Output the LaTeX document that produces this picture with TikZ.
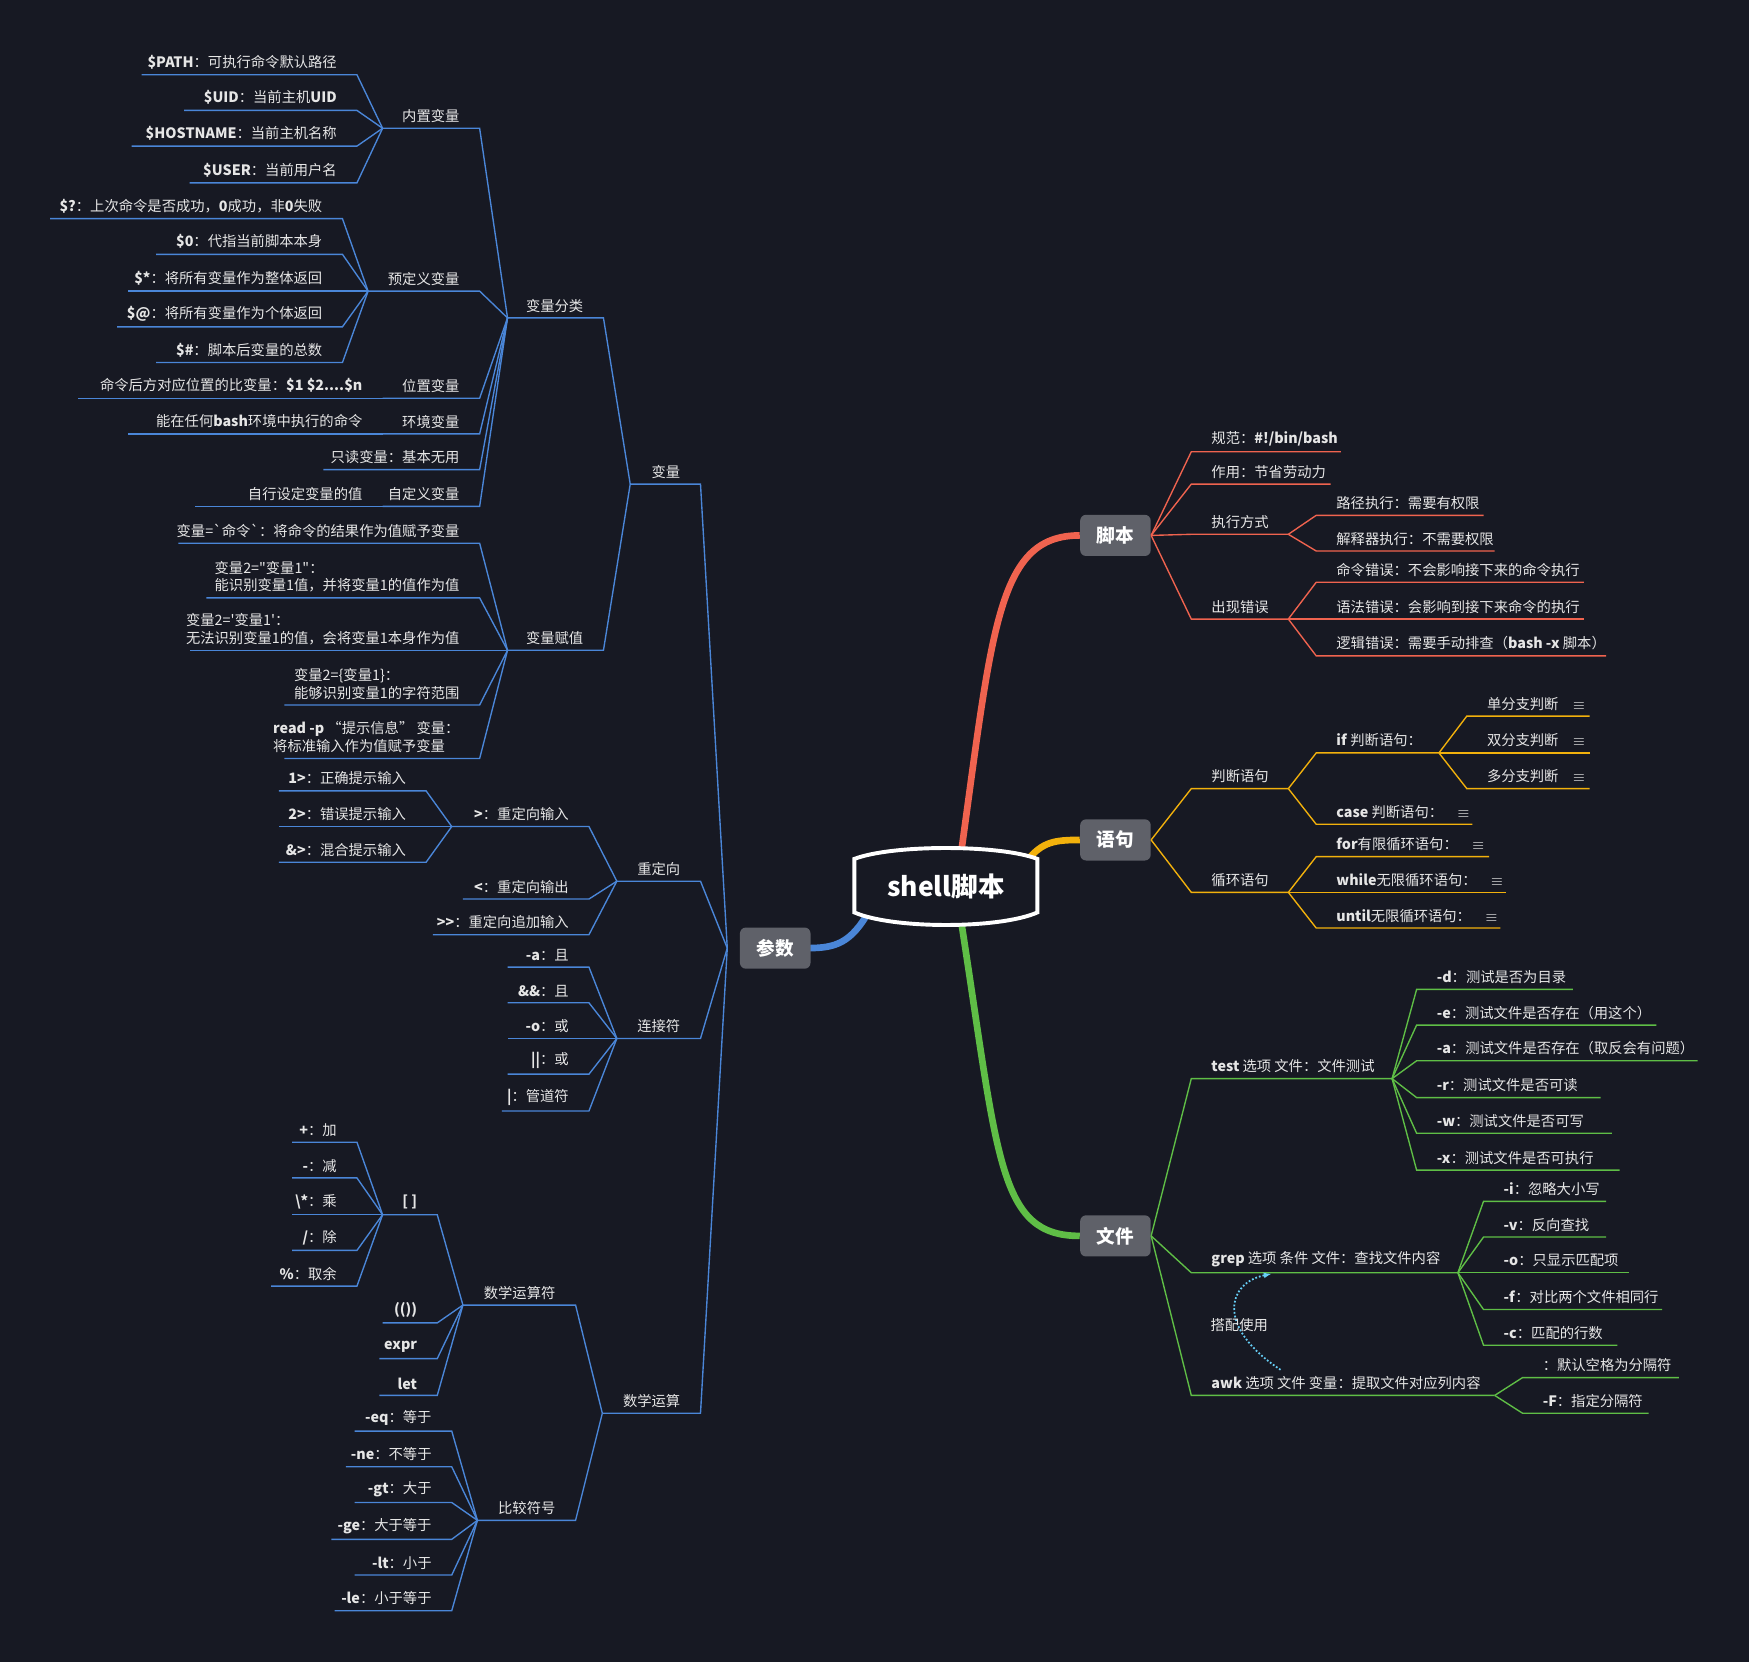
\documentclass[tikz,border=0pt]{standalone}
\usepackage{fontspec}
\setmainfont{Noto Sans CJK SC}[Ligatures=TeXOff]
\usetikzlibrary{arrows.meta}
\definecolor{bgcol}{HTML}{171923}
\definecolor{cred}{HTML}{F0634F}
\definecolor{cyel}{HTML}{F2B10C}
\definecolor{cgrn}{HTML}{5FBE46}
\definecolor{cblu}{HTML}{4A86D8}
\definecolor{boxcol}{HTML}{5F6169}
\definecolor{txtcol}{HTML}{E6E6E6}
\tikzset{
  lbl/.style={text=txtcol, font=\fontsize{7.3}{9}\selectfont, inner sep=1pt, align=left},
  main/.style={fill=boxcol, text=white, rounded corners=3pt, minimum width=36pt, minimum height=21pt,
    inner sep=1pt, font=\bfseries\fontsize{9.5}{11}\selectfont},
  lred/.style={draw=cred, line width=0.7pt},
  lyel/.style={draw=cyel, line width=0.7pt},
  lgrn/.style={draw=cgrn, line width=0.7pt},
  lblu/.style={draw=cblu, line width=0.7pt},
  thick/.style={line width=3.4pt}
}
% left branch: parent, inner x, outer x, y, text, style
\newcommand\brL[6]{
  \draw[#6] (#1) -- (#2,#4) -- (#3,#4);
  \node[lbl, anchor=south east] at (#2-16,#4-3) {#5};
}
% right branch
\newcommand\brR[6]{
  \draw[#6] (#1) -- (#2,#4) -- (#3,#4);
  \node[lbl, anchor=south west] at (#2+16,#4-3) {#5};
}
\newcommand\ic{\quad$\equiv$}
\begin{document}
\begin{tikzpicture}[x=0.02cm, y=-0.02cm]
\fill[bgcol] (0,0) rectangle (1568,1490);
\useasboundingbox (0,0) rectangle (1568,1490);

% main curves
\draw[cred, thick] (862,762) .. controls (890,560) and (895,480) .. (968,480);
\draw[cyel, thick] (922,770) .. controls (935,755) and (945,753) .. (968,753);
\draw[cgrn, thick] (862,828) .. controls (895,1040) and (895,1108) .. (968,1108);
\draw[cblu, thick] (776,822) .. controls (760,848) and (745,850) .. (722,850);

% centre
\draw[white, line width=2pt, fill=bgcol] (766,770) .. controls (800,757) and (896,757) .. (930,770)
  -- (930,818) .. controls (896,833) and (800,833) .. (766,818) -- cycle;
\node[text=white, font=\bfseries\fontsize{13.5}{15}\selectfont] (root) at (848,795) {shell脚本};

\node[main] (jb) at (1000,480) {脚本};
\node[main] (yj) at (1000,753) {语句};
\node[main] (wj) at (1000,1108) {文件};
\node[main] (cs) at (695,850) {参数};

% 脚本
\brR{1032,480}{1068}{1202}{405}{规范：\textbf{\#!/bin/bash}}{lred}
\brR{1032,480}{1068}{1193}{434}{作用：节省劳动力}{lred}
\brR{1032,480}{1068}{1155}{479}{执行方式}{lred}
\brR{1032,480}{1068}{1155}{555}{出现错误}{lred}
\brR{1155,479}{1180}{1330}{462}{路径执行：需要有权限}{lred}
\brR{1155,479}{1180}{1340}{494}{解释器执行：不需要权限}{lred}
\brR{1155,555}{1180}{1420}{522}{命令错误：不会影响接下来的命令执行}{lred}
\brR{1155,555}{1180}{1420}{555}{语法错误：会影响到接下来命令的执行}{lred}
\brR{1155,555}{1180}{1440}{588}{逻辑错误：需要手动排查（\textbf{bash -x} 脚本）}{lred}

% 语句
\brR{1032,753}{1068}{1155}{707}{判断语句}{lyel}
\brR{1032,753}{1068}{1155}{800}{循环语句}{lyel}
\brR{1155,707}{1180}{1290}{675}{\textbf{if} 判断语句：}{lyel}
\brR{1155,707}{1180}{1320}{739}{\textbf{case} 判断语句：\ic}{lyel}
\brR{1290,675}{1315}{1425}{642}{单分支判断\ic}{lyel}
\brR{1290,675}{1315}{1425}{675}{双分支判断\ic}{lyel}
\brR{1290,675}{1315}{1425}{707}{多分支判断\ic}{lyel}
\brR{1155,800}{1180}{1335}{768}{\textbf{for}有限循环语句：\ic}{lyel}
\brR{1155,800}{1180}{1350}{800}{\textbf{while}无限循环语句：\ic}{lyel}
\brR{1155,800}{1180}{1345}{832}{\textbf{until}无限循环语句：\ic}{lyel}

% 文件
\brR{1032,1108}{1068}{1248}{967}{\textbf{test} 选项 文件：文件测试}{lgrn}
\brR{1032,1108}{1068}{1307}{1141}{\textbf{grep} 选项 条件 文件：查找文件内容}{lgrn}
\brR{1032,1108}{1068}{1340}{1251}{\textbf{awk} 选项 文件 变量：提取文件对应列内容}{lgrn}
\brR{1248,967}{1270}{1410}{887}{\textbf{-d}：测试是否为目录}{lgrn}
\brR{1248,967}{1270}{1485}{919}{\textbf{-e}：测试文件是否存在（用这个）}{lgrn}
\brR{1248,967}{1270}{1522}{951}{\textbf{-a}：测试文件是否存在（取反会有问题）}{lgrn}
\brR{1248,967}{1270}{1435}{984}{\textbf{-r}：测试文件是否可读}{lgrn}
\brR{1248,967}{1270}{1445}{1016}{\textbf{-w}：测试文件是否可写}{lgrn}
\brR{1248,967}{1270}{1452}{1049}{\textbf{-x}：测试文件是否可执行}{lgrn}
\brR{1307,1141}{1330}{1440}{1077}{\textbf{-i}：忽略大小写}{lgrn}
\brR{1307,1141}{1330}{1440}{1109}{\textbf{-v}：反向查找}{lgrn}
\brR{1307,1141}{1330}{1460}{1141}{\textbf{-o}：只显示匹配项}{lgrn}
\brR{1307,1141}{1330}{1490}{1174}{\textbf{-f}：对比两个文件相同行}{lgrn}
\brR{1307,1141}{1330}{1450}{1206}{\textbf{-c}：匹配的行数}{lgrn}
\brR{1340,1251}{1365}{1505}{1235}{：默认空格为分隔符}{lgrn}
\brR{1340,1251}{1365}{1478}{1267}{\textbf{-F}：指定分隔符}{lgrn}
\coordinate (awkc) at (1148,1228);
\coordinate (grepc) at (1140,1142);
\draw[cyan!60!white, densely dotted, line width=0.9pt, -{Latex[length=4pt]}]
  (awkc) .. controls (1090,1190) and (1100,1150) .. (grepc);
\node[lbl] (dp) at (1111,1188) {搭配使用};

% 参数
\brL{652,850}{628}{565}{434}{变量}{lblu}
\brL{652,850}{628}{553}{790}{重定向}{lblu}
\brL{652,850}{628}{553}{931}{连接符}{lblu}
\brL{652,850}{628}{540}{1267}{数学运算}{lblu}

\brL{565,434}{541}{455}{285}{变量分类}{lblu}
\brL{565,434}{541}{455}{583}{变量赋值}{lblu}

\brL{455,285}{430}{343}{115}{内置变量}{lblu}
\brL{455,285}{430}{330}{261}{预定义变量}{lblu}
\brL{455,285}{430}{343}{357}{位置变量}{lblu}
\brL{455,285}{430}{343}{389}{环境变量}{lblu}
\brL{455,285}{430}{290}{421}{只读变量：基本无用}{lblu}
\brL{455,285}{430}{343}{454}{自定义变量}{lblu}
\brL{343,357}{343}{70}{357}{命令后方对应位置的比变量：\textbf{\$1 \$2....\$n}}{lblu}
\brL{343,389}{343}{115}{389}{能在任何\textbf{bash}环境中执行的命令}{lblu}
\brL{343,454}{343}{175}{454}{自行设定变量的值}{lblu}

\brL{343,115}{320}{127}{67}{\textbf{\$PATH}：可执行命令默认路径}{lblu}
\brL{343,115}{320}{165}{99}{\textbf{\$UID}：当前主机\textbf{UID}}{lblu}
\brL{343,115}{320}{118}{131}{\textbf{\$HOSTNAME}：当前主机名称}{lblu}
\brL{343,115}{320}{170}{164}{\textbf{\$USER}：当前用户名}{lblu}

\brL{330,261}{307}{45}{196}{\textbf{\$?}：上次命令是否成功，\textbf{0}成功，非\textbf{0}失败}{lblu}
\brL{330,261}{307}{140}{228}{\textbf{\$0}：代指当前脚本本身}{lblu}
\brL{330,261}{307}{115}{261}{\textbf{\$*}：将所有变量作为整体返回}{lblu}
\brL{330,261}{307}{105}{293}{\textbf{\$@}：将所有变量作为个体返回}{lblu}
\brL{330,261}{307}{140}{325}{\textbf{\$\#}：脚本后变量的总数}{lblu}

\brL{455,583}{430}{160}{487}{变量=`命令`：将命令的结果作为值赋予变量}{lblu}
\brL{455,583}{430}{185}{536}{变量2="变量1"：\\能识别变量1值，并将变量1的值作为值}{lblu}
\brL{455,583}{430}{170}{583}{变量2='变量1'：\\无法识别变量1的值，会将变量1本身作为值}{lblu}
\brL{455,583}{430}{255}{632}{变量2=\{变量1\}：\\能够识别变量1的字符范围}{lblu}
\brL{455,583}{430}{255}{680}{\textbf{read -p} “提示信息” 变量：\\将标准输入作为值赋予变量}{lblu}

\brL{553,790}{528}{405}{741}{\textbf{>}：重定向输入}{lblu}
\brL{553,790}{528}{415}{806}{\textbf{<}：重定向输出}{lblu}
\brL{553,790}{528}{388}{838}{\textbf{>{}>}：重定向追加输入}{lblu}
\brL{405,741}{382}{250}{709}{\textbf{1>}：正确提示输入}{lblu}
\brL{405,741}{382}{250}{741}{\textbf{2>}：错误提示输入}{lblu}
\brL{405,741}{382}{250}{773}{\textbf{\&>}：混合提示输入}{lblu}

\brL{553,931}{528}{455}{867}{\textbf{-a}：且}{lblu}
\brL{553,931}{528}{455}{899}{\textbf{\&\&}：且}{lblu}
\brL{553,931}{528}{455}{931}{\textbf{-o}：或}{lblu}
\brL{553,931}{528}{455}{963}{\textbf{||}：或}{lblu}
\brL{553,931}{528}{450}{996}{\textbf{|}：管道符}{lblu}

\brL{540,1267}{516}{415}{1170}{数学运算符}{lblu}
\brL{540,1267}{516}{428}{1363}{比较符号}{lblu}
\brL{415,1170}{392}{343}{1089}{\textbf{[ ]}}{lblu}
\brL{415,1170}{392}{343}{1186}{\textbf{(())}}{lblu}
\brL{415,1170}{392}{340}{1218}{\textbf{expr}}{lblu}
\brL{415,1170}{392}{340}{1251}{\textbf{let}}{lblu}
\brL{343,1089}{320}{262}{1024}{\textbf{+}：加}{lblu}
\brL{343,1089}{320}{262}{1056}{\textbf{-}：减}{lblu}
\brL{343,1089}{320}{262}{1089}{\textbf{\textbackslash*}：乘}{lblu}
\brL{343,1089}{320}{262}{1121}{\textbf{/}：除}{lblu}
\brL{343,1089}{320}{243}{1153}{\textbf{\%}：取余}{lblu}
\brL{428,1363}{405}{318}{1283}{\textbf{-eq}：等于}{lblu}
\brL{428,1363}{405}{310}{1315}{\textbf{-ne}：不等于}{lblu}
\brL{428,1363}{405}{318}{1347}{\textbf{-gt}：大于}{lblu}
\brL{428,1363}{405}{297}{1380}{\textbf{-ge}：大于等于}{lblu}
\brL{428,1363}{405}{318}{1412}{\textbf{-lt}：小于}{lblu}
\brL{428,1363}{405}{300}{1444}{\textbf{-le}：小于等于}{lblu}
\end{tikzpicture}
\end{document}
